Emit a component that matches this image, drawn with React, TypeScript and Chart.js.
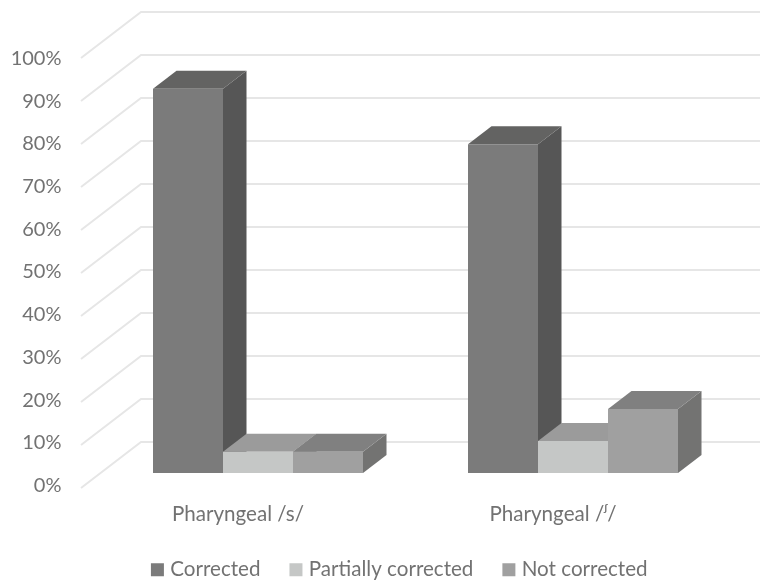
import { useEffect, useRef } from "react";
import { Chart, registerables } from "chart.js";

Chart.register(...registerables);

const categories = ["Pharyngeal /s/", "Pharyngeal /ᶴ/"];
const corrected = [90, 77];
const partiallyCorrected = [5, 7.5];
const notCorrected = [5, 15];
const seriesNames = ["Corrected", "Partially corrected", "Not corrected"];
const frontColors = ["#7b7b7b", "#c5c7c6", "#a0a0a0"];
const topColors = ["#636362", "#9b9b9b", "#808080"];
const sideColors = ["#565656", "#8a8a8a", "#737372"];
const gridValues = [0, 10, 20, 30, 40, 50, 60, 70, 80, 90, 100];

const FONT = "Lato, 'DejaVu Sans', sans-serif";
const TEXT = "#727272";

const box3d = {
  id: "box3d",
  afterLayout(chart: any) {
    chart.legend.left += 36;
    chart.legend.right += 36;
  },
  beforeDatasetsDraw(chart: any) {
    const { ctx } = chart;
    const y = chart.scales.y;
    const zero = y.getPixelForValue(0);
    ctx.save();
    ctx.strokeStyle = "#e6e6e6";
    ctx.lineWidth = 2;
    ctx.lineJoin = "miter";
    for (const v of gridValues) {
      const backY = zero - 31 - (zero - y.getPixelForValue(v)) * 1.007;
      ctx.beginPath();
      ctx.moveTo(81, backY + 46);
      ctx.lineTo(141, backY);
      ctx.lineTo(760, backY);
      ctx.stroke();
    }
    const dx = 23.5;
    const dy = -18;
    for (let c = 0; c < categories.length; c++) {
      for (let d = 0; d < chart.data.datasets.length; d++) {
        const el = chart.getDatasetMeta(d).data[c];
        const p = el.getProps(["x", "y", "base", "width"], true);
        const l = p.x - p.width / 2;
        const r = p.x + p.width / 2;
        ctx.fillStyle = sideColors[d];
        ctx.beginPath();
        ctx.moveTo(r, p.y);
        ctx.lineTo(r + dx, p.y + dy);
        ctx.lineTo(r + dx, p.base + dy);
        ctx.lineTo(r, p.base);
        ctx.closePath();
        ctx.fill();
        ctx.fillStyle = topColors[d];
        ctx.beginPath();
        ctx.moveTo(l, p.y);
        ctx.lineTo(l + dx, p.y + dy);
        ctx.lineTo(r + dx, p.y + dy);
        ctx.lineTo(r, p.y);
        ctx.closePath();
        ctx.fill();
      }
    }
    ctx.restore();
  },
};

export default function App() {
  const ref = useRef<HTMLCanvasElement>(null);
  useEffect(() => {
    const chart = new Chart(ref.current!, {
      type: "bar",
      data: {
        labels: categories,
        datasets: [corrected, partiallyCorrected, notCorrected].map((data, i) => ({
          label: seriesNames[i],
          data,
          backgroundColor: frontColors[i],
          borderWidth: 0,
          categoryPercentage: 2 / 3,
          barPercentage: 1,
        })),
      },
      options: {
        responsive: false,
        animation: false,
        layout: { padding: { top: 46, right: 29.5, left: 0, bottom: -9 } },
        plugins: {
          tooltip: { enabled: false },
          legend: {
            position: "bottom",
            labels: {
              usePointStyle: true,
              pointStyle: "rect",
              boxWidth: 5,
              boxHeight: 13,
              padding: 33,
              color: TEXT,
              font: { family: FONT, size: 20.6 },
            },
          },
        },
        scales: {
          x: {
            grid: { display: false },
            border: { display: false },
            afterFit(a: any) { a.height = 53.4; },
            ticks: {
              color: TEXT,
              font: { family: FONT, size: 20.6 },
              padding: 21,
              labelOffset: -20,
              maxRotation: 0,
            },
          },
          y: {
            min: 0,
            max: 100,
            grid: { display: false, drawTicks: true, tickLength: 39 },
            border: { display: false },
            afterFit(a: any) { a.width = 100.5; },
            ticks: {
              stepSize: 10,
              color: TEXT,
              font: { family: FONT, size: 20 },
              padding: 0,
              labelOffset: 12.5,
              callback: (v: any) => `${v}%`,
            },
          },
        },
      },
      plugins: [box3d],
    } as any);
    return () => chart.destroy();
  }, []);
  return (
    <div style={{ position: "fixed", left: 0, top: 0, width: 760, height: 581, background: "#fff" }}>
      <canvas ref={ref} width={760} height={581} style={{ display: "block" }} />
    </div>
  );
}
